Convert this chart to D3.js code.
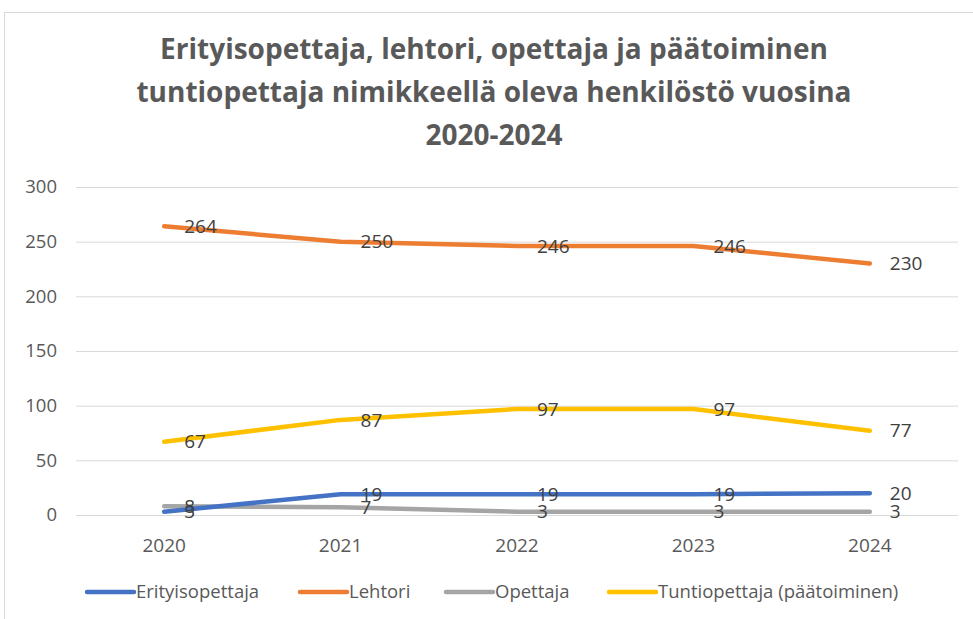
<!DOCTYPE html>
<html><head><meta charset="utf-8">
<script src="https://cdn.jsdelivr.net/npm/d3@7"></script>
<style>body{margin:0;background:#fff;}svg{display:block;}</style>
</head><body>
<script>
const years = ["2020","2021","2022","2023","2024"];
const seriesNames = ["Erityisopettaja","Lehtori","Opettaja","Tuntiopettaja (päätoiminen)"];
const erityisopettaja = [3,19,19,19,20];
const lehtori = [264,250,246,246,230];
const opettaja = [8,7,3,3,3];
const tuntiopettaja = [67,87,97,97,77];
const yTicks = [0,50,100,150,200,250,300];
const titleLines = ["Erityisopettaja, lehtori, opettaja ja päätoiminen","tuntiopettaja nimikkeellä oleva henkilöstö vuosina","2020-2024"];
const colors = ["#4472C4","#ED7D31","#A5A5A5","#FFC000"];

const seriesValues = [erityisopettaja, lehtori, opettaja, tuntiopettaja];
const W = 973, H = 619;
const font = "'Open Sans',sans-serif";
const svg = d3.select("body").append("svg").attr("width",W).attr("height",H);
svg.append("rect").attr("x",4.5).attr("y",12.5).attr("width",W+10).attr("height",H+10)
  .attr("fill","#fff").attr("stroke","#d9d9d9");

const x = d3.scaleBand().domain(years).range([76,958]);
const y = d3.scaleLinear().domain([0,300]).range([515,187]);

// title
svg.append("g").selectAll("text").data(titleLines).join("text")
  .attr("x",494).attr("y",(d,i)=>59+i*43).attr("text-anchor","middle")
  .attr("font-family",font).attr("font-weight","bold").attr("font-size",28)
  .attr("fill","#595959").text(d=>d);

// gridlines
const yAxis = d3.axisLeft(y).tickValues(yTicks).tickSize(-(958-76)).tickPadding(19);
const gy = svg.append("g").attr("transform","translate(76,0)").call(yAxis);
gy.select(".domain").remove();
gy.selectAll(".tick line").attr("stroke","#d9d9d9").attr("stroke-width",1);
gy.selectAll(".tick text").attr("font-family",font).attr("font-size",18.5).attr("fill","#595959");

const xAxis = d3.axisBottom(x).tickSize(0).tickPadding(24);
const gx = svg.append("g").attr("transform","translate(0,515)").call(xAxis);
gx.select(".domain").remove();
gx.selectAll(".tick text").attr("font-family",font).attr("font-size",19).attr("fill","#595959");

const line = d3.line().x((d,i)=>x(years[i])+x.bandwidth()/2).y(d=>y(d));
const order = [2,0,3,1];
order.forEach(s=>{
  svg.append("path").datum(seriesValues[s]).attr("d",line).attr("fill","none")
    .attr("stroke",colors[s]).attr("stroke-width",4.5).attr("stroke-linecap","round").attr("stroke-linejoin","round");
});
order.forEach(s=>{
  svg.append("g").selectAll("text").data(seriesValues[s]).join("text")
    .attr("x",(d,i)=>x(years[i])+x.bandwidth()/2+20).attr("y",d=>y(d)).attr("dy","0.35em")
    .attr("font-family",font).attr("font-size",19).attr("fill","#404040").text(d=>d);
});

// legend
const legendX = [85,298,444,607];
const lg = svg.append("g");
seriesNames.forEach((n,i)=>{
  lg.append("line").attr("x1",legendX[i]+2).attr("x2",legendX[i]+49).attr("y1",592).attr("y2",592)
    .attr("stroke",colors[i]).attr("stroke-width",4.5).attr("stroke-linecap","round");
  lg.append("text").attr("x",legendX[i]+51).attr("y",592).attr("dy","0.35em")
    .attr("font-family",font).attr("font-size",18.5).attr("fill","#595959").text(n);
});
</script>
</body></html>
